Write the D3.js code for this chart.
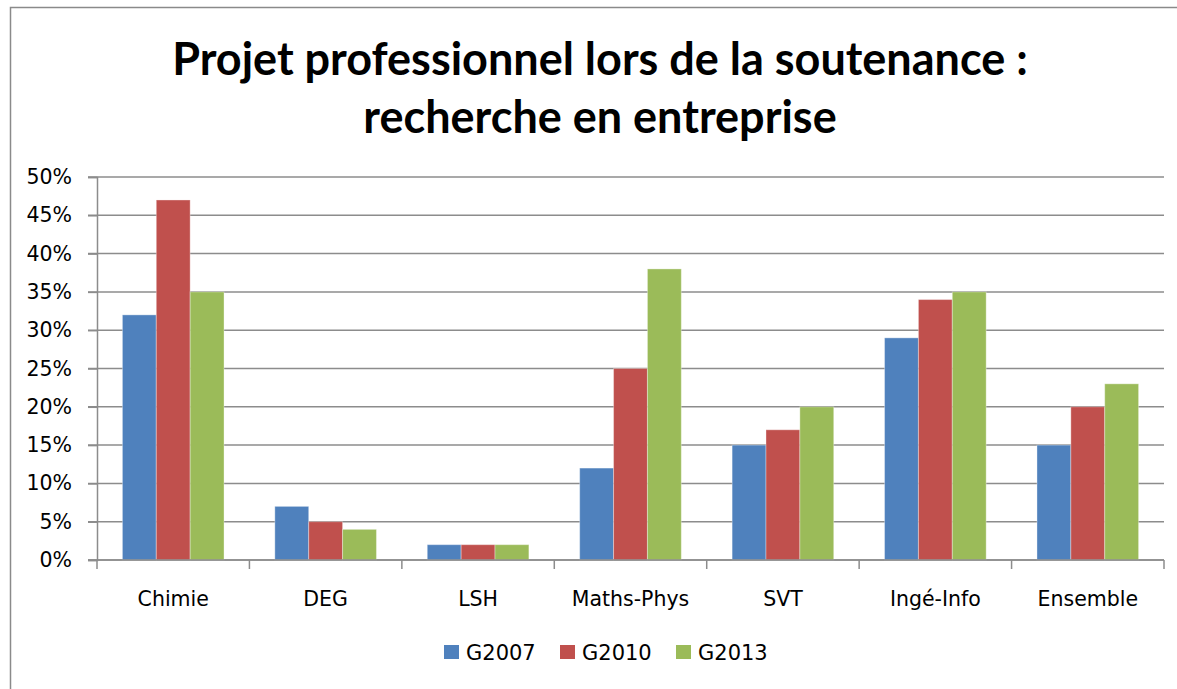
<!DOCTYPE html>
<html>
<head>
<meta charset="utf-8">
<script src="https://cdn.jsdelivr.net/npm/d3@7"></script>
<style>
  body { margin: 0; background: #fff; }
  svg { display: block; }
</style>
</head>
<body>
<script>
// Projet professionnel lors de la soutenance - grouped bars

const categories = ["Chimie", "DEG", "LSH", "Maths-Phys", "SVT", "Ingé-Info", "Ensemble"];
const seriesNames = ["G2007", "G2010", "G2013"];
const g2007 = [32, 7, 2, 12, 15, 29, 15];
const g2010 = [47, 5, 2, 25, 17, 34, 20];
const g2013 = [35, 4, 2, 38, 20, 35, 23];
const yTicks = [0, 5, 10, 15, 20, 25, 30, 35, 40, 45, 50];
const colors = ["#4f81bd", "#c0504d", "#9bbb59"];
const titleLines = ["Projet professionnel lors de la soutenance :", "recherche en entreprise"];

const W = 1177, H = 689;
const plot = {left: 97, right: 1164, top: 177, bottom: 560};
const labelFont = "'DejaVu Sans', sans-serif";

const seriesVals = [g2007, g2010, g2013];
const rows = categories.map((c, i) => ({
  cat: c,
  vals: seriesNames.map((s, j) => ({key: s, value: seriesVals[j][i], color: colors[j]}))
}));

const svg = d3.select("body").append("svg")
  .attr("width", W)
  .attr("height", H);

// outer frame (runs off the right and bottom edge)
svg.append("rect")
  .attr("x", 10.5).attr("y", 7.5)
  .attr("width", 1180).attr("height", 720)
  .attr("fill", "#fff")
  .attr("stroke", "#8a8a8a")
  .attr("stroke-width", 1.5);

// title
svg.append("g").selectAll("text")
  .data(titleLines)
  .join("text")
  .attr("x", 600)
  .attr("y", (d, i) => 75 + i * 58)
  .attr("text-anchor", "middle")
  .style("font-family", "Lato, sans-serif")
  .style("font-weight", "bold")
  .style("font-size", "45px")
  .attr("fill", "#000")
  .text(d => d);

const x0 = d3.scaleBand()
  .domain(categories)
  .range([plot.left, plot.right])
  .paddingInner(1 / 3)
  .paddingOuter(1 / 6);

const x1 = d3.scaleBand()
  .domain(seriesNames)
  .range([0, x0.bandwidth()]);

const y = d3.scaleLinear()
  .domain([0, 50])
  .range([plot.bottom, plot.top]);

// gridlines
svg.append("g").selectAll("line")
  .data(yTicks)
  .join("line")
  .attr("x1", plot.left - 9)
  .attr("x2", plot.right)
  .attr("y1", d => y(d))
  .attr("y2", d => y(d))
  .attr("stroke", "#8c8c8c")
  .attr("stroke-width", 1.5);

// y axis
const yAxis = svg.append("g")
  .attr("transform", "translate(" + plot.left + ",0)")
  .call(d3.axisLeft(y).tickValues(yTicks).tickSize(9).tickPadding(16).tickFormat(d => d + "%"));
yAxis.select(".domain").attr("stroke", "#8c8c8c").attr("stroke-width", 1.5);
yAxis.selectAll(".tick line").attr("stroke", "#8c8c8c").attr("stroke-width", 1.5);
yAxis.selectAll("text")
  .style("font-family", labelFont)
  .style("font-size", "20.5px")
  .attr("fill", "#000");

// bars
const groups = svg.append("g").selectAll("g")
  .data(rows)
  .join("g")
  .attr("transform", d => "translate(" + x0(d.cat) + ",0)");

groups.selectAll("rect")
  .data(d => d.vals)
  .join("rect")
  .attr("x", d => x1(d.key))
  .attr("y", d => y(d.value))
  .attr("width", x1.bandwidth())
  .attr("height", d => y(0) - y(d.value))
  .attr("fill", d => d.color)
  .attr("stroke", "rgba(255,255,255,0.35)")
  .attr("stroke-width", 1);

// x axis
const xAxis = svg.append("g")
  .attr("transform", "translate(0," + plot.bottom + ")")
  .call(d3.axisBottom(x0).tickSize(0).tickPadding(31));
xAxis.select(".domain").remove();
xAxis.selectAll("text")
  .style("font-family", labelFont)
  .style("font-size", "20.5px")
  .attr("fill", "#000");

const bounds = d3.range(categories.length + 1).map(i => plot.left + i * x0.step());
svg.append("line")
  .attr("x1", plot.left - 9).attr("x2", plot.right)
  .attr("y1", plot.bottom).attr("y2", plot.bottom)
  .attr("stroke", "#8c8c8c").attr("stroke-width", 1.5);
svg.append("g").selectAll("line")
  .data(bounds)
  .join("line")
  .attr("x1", d => d).attr("x2", d => d)
  .attr("y1", plot.bottom).attr("y2", plot.bottom + 9)
  .attr("stroke", "#8c8c8c").attr("stroke-width", 1.5);

// legend
const legend = svg.append("g").attr("transform", "translate(444,645)");
const item = legend.selectAll("g")
  .data(seriesNames)
  .join("g")
  .attr("transform", (d, i) => "translate(" + i * 116 + ",0)");
item.append("rect")
  .attr("width", 15).attr("height", 14)
  .attr("fill", (d, i) => colors[i]);
item.append("text")
  .attr("x", 22).attr("y", 7)
  .attr("dy", "0.36em")
  .style("font-family", labelFont)
  .style("font-size", "21px")
  .attr("fill", "#000")
  .text(d => d);
</script>
</body>
</html>
